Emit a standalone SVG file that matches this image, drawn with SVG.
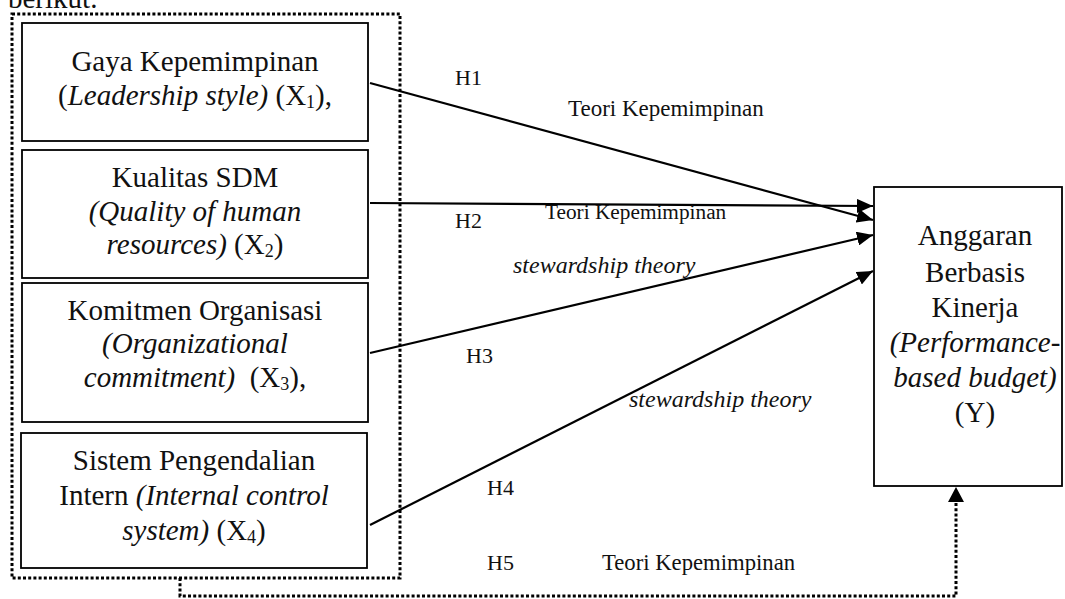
<svg xmlns="http://www.w3.org/2000/svg" width="1065" height="599" viewBox="0 0 1065 599">
<style>
  text { font-family: "Liberation Serif", "Times New Roman", serif; fill: #111; }
  .big { font-size: 29px; text-anchor: middle; }
  .lbl { font-size: 22px; }
  .it { font-style: italic; }
  .sub { font-size: 18px; }
  .box { fill: #fff; stroke: #000; stroke-width: 1.8; }
  .dot { fill: none; stroke: #000; stroke-width: 3; stroke-dasharray: 3 2.2; }
  .arr { fill: none; stroke: #000; stroke-width: 2.2; marker-end: url(#ah); }
</style>
<defs>
  <marker id="ah" markerUnits="userSpaceOnUse" markerWidth="18" markerHeight="14" refX="16" refY="7" orient="auto">
    <path d="M0,0 L16,7 L0,14 Z" fill="#000"/>
  </marker>
</defs>
<rect width="1065" height="599" fill="#fff"/>
<text x="8" y="8" style="font-size:29px">berikut.</text>

<g id="group-x">
  <rect class="dot" x="12" y="14" width="388" height="564"/>
</g>

<g id="x1">
  <rect class="box" x="22" y="23" width="346" height="118"/>
  <text class="big" x="195" y="71">Gaya Kepemimpinan</text>
  <text class="big" x="195" y="105">(<tspan class="it">Leadership style)</tspan> (X<tspan class="sub" dy="3">1</tspan><tspan dy="-3">),</tspan></text>
</g>

<g id="x2">
  <rect class="box" x="22" y="150" width="346" height="128"/>
  <text class="big" x="195" y="187">Kualitas SDM</text>
  <text class="big it" x="195" y="221">(Quality of human</text>
  <text class="big" x="195" y="254"><tspan class="it">resources)</tspan> (X<tspan class="sub" dy="3">2</tspan><tspan dy="-3">)</tspan></text>
</g>

<g id="x3">
  <rect class="box" x="22" y="283" width="346" height="139"/>
  <text class="big" x="195" y="320">Komitmen Organisasi</text>
  <text class="big it" x="195" y="353">(Organizational</text>
  <text class="big" x="195" y="387"><tspan class="it">commitment)</tspan>&#160; (X<tspan class="sub" dy="3">3</tspan><tspan dy="-3">),</tspan></text>
</g>

<g id="x4">
  <rect class="box" x="21" y="433" width="346" height="135"/>
  <text class="big" x="194" y="470">Sistem Pengendalian</text>
  <text class="big" x="194" y="505">Intern <tspan class="it">(Internal control</tspan></text>
  <text class="big" x="194" y="540"><tspan class="it">system)</tspan> (X<tspan class="sub" dy="3">4</tspan><tspan dy="-3">)</tspan></text>
</g>

<g id="y">
  <rect class="box" x="874" y="187" width="188" height="299"/>
  <text class="big" x="975" y="245">Anggaran</text>
  <text class="big" x="975" y="282">Berbasis</text>
  <text class="big" x="975" y="317">Kinerja</text>
  <text class="big it" x="975" y="352">(Performance-</text>
  <text class="big it" x="975" y="387">based budget)</text>
  <text class="big" x="975" y="422">(Y)</text>
</g>

<g id="connectors">
  <line class="arr" x1="370" y1="83" x2="873" y2="220"/>
  <line class="arr" x1="370" y1="203" x2="873" y2="206"/>
  <line class="arr" x1="370" y1="353" x2="873" y2="235"/>
  <line class="arr" x1="370" y1="525" x2="873" y2="271"/>
  <path class="dot" d="M180,578 V596 H956 V502"/>
  <path d="M956,487 L964,502 L948,502 Z" fill="#000"/>
</g>

<g id="labels">
  <text class="lbl" x="455" y="85">H1</text>
  <text x="568" y="116" style="font-size:23px">Teori Kepemimpinan</text>
  <text x="545" y="219" style="font-size:21.3px">Teori Kepemimpinan</text>
  <text class="lbl" x="455" y="228">H2</text>
  <text class="it" x="513" y="273" style="font-size:24px">stewardship theory</text>
  <text class="lbl" x="466" y="363">H3</text>
  <text class="it" x="629" y="407" style="font-size:24px">stewardship theory</text>
  <text class="lbl" x="487" y="495">H4</text>
  <text class="lbl" x="487" y="570">H5</text>
  <text x="602" y="570" style="font-size:22.7px">Teori Kepemimpinan</text>
</g>
</svg>
